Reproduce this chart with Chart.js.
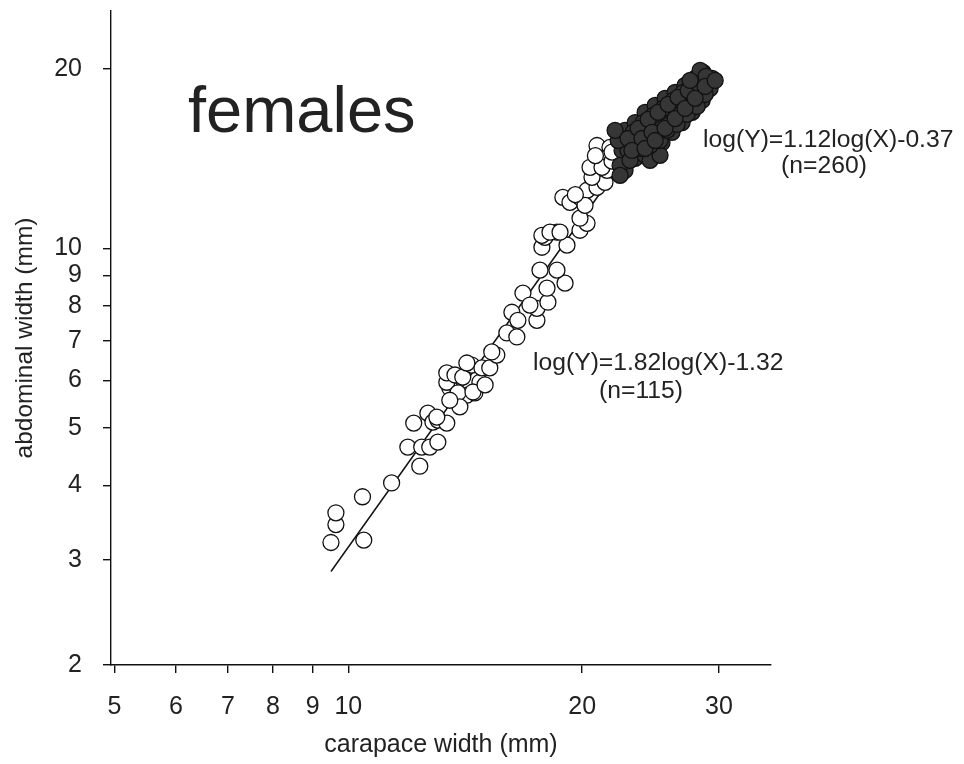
<!DOCTYPE html>
<html>
<head>
<meta charset="utf-8">
<script src="https://cdn.jsdelivr.net/npm/chart.js@4.4.1/dist/chart.umd.min.js"></script>
<style>
  html, body { margin: 0; padding: 0; background: #fff; }
</style>
</head>
<body>
<canvas id="chart" width="964" height="764"></canvas>
<script>
const FONT = '"Liberation Sans", Arial, sans-serif';

// open circles: juvenile females (n=115)
const juvX = [9.50, 9.64, 9.64, 10.43, 10.47, 11.37, 12.36, 11.93, 12.14, 12.43, 12.73, 13.04, 12.66, 12.85, 13.04, 13.39,
  13.51, 13.80, 14.21, 14.55, 14.77, 13.39, 13.00, 13.39, 13.72, 14.04, 13.84, 14.47, 14.42, 14.86, 15.21, 15.53, 15.30,
  16.00, 16.48, 16.24, 16.53, 16.78, 17.49, 17.49, 17.13, 18.07, 18.02, 19.01, 17.65, 18.56, 17.75, 17.91, 18.56, 19.12,
  19.87, 20.29, 17.75, 18.18, 18.73, 19.87, 18.89, 19.29, 19.87, 20.29, 20.90, 21.40, 20.59, 21.53, 20.47, 21.09, 21.28,
  20.90, 21.72, 21.59, 21.21, 20.17, 13.92, 14.21, 20.80, 21.85, 21.85, 19.60, 13.51, 15.00];
const juvY = [3.21, 3.44, 3.60, 3.83, 3.24, 4.04, 4.31, 4.64, 5.09, 4.64, 4.64, 4.73, 5.29, 5.11, 5.15, 5.09,
  5.83, 5.56, 5.67, 5.72, 5.96, 5.96, 5.21, 6.18, 6.13, 6.08, 5.72, 5.74, 6.37, 6.30, 6.30, 6.62, 6.70,
  7.21, 7.10, 7.81, 7.57, 8.41, 7.57, 7.93, 8.03, 8.12, 8.57, 8.74, 9.19, 9.19, 10.04, 10.43, 10.64, 10.12,
  10.72, 11.01, 10.51, 10.64, 10.64, 11.23, 12.17, 11.94, 12.17, 12.51, 12.65, 12.90, 13.15, 13.51, 13.67, 14.15, 14.59,
  14.87, 14.76, 14.20, 13.67, 11.80, 5.42, 6.42, 14.30, 14.00, 14.50, 12.30, 5.56, 5.90];

// filled circles: adult females (n=260)
const adultX = [22.71, 23.40, 24.10, 24.83, 25.57, 26.34, 27.13, 27.95, 28.62,
  22.51, 23.05, 23.75, 24.46, 25.19, 25.95, 26.73, 27.54, 28.37, 29.05,
  22.71, 23.40, 24.10, 24.83, 25.34, 26.10, 26.89, 27.70, 28.54, 29.22,
  22.38, 22.91, 23.61, 24.32, 25.04, 25.80, 26.57, 27.38, 28.20,
  23.26, 23.96, 24.68, 25.42, 26.18, 26.97, 27.79, 24.46, 25.19, 22.25, 22.38, 28.37, 29.40, 22.05,
  22.91, 23.61, 24.32, 25.04, 25.80, 26.57, 27.38, 28.20, 28.87,
  23.05, 23.75, 24.46, 25.19, 25.72, 26.49, 27.30, 28.12, 28.79,
  23.18, 23.88, 24.60, 24.10, 24.83, 25.57, 26.34, 27.13, 27.95, 28.79, 29.66, 27.54];
const adultY = [15.77, 16.25, 16.90, 17.36, 17.84, 18.25, 18.75, 19.27, 19.72,
  14.59, 15.16, 15.65, 16.07, 16.50, 17.03, 17.56, 18.04, 18.53, 19.12,
  13.51, 14.15, 14.32, 14.59, 15.04, 15.65, 16.25, 16.90, 17.70, 18.53,
  13.77, 14.59, 14.87, 15.16, 15.58, 16.07, 16.70, 17.36, 17.91,
  15.65, 16.25, 16.70, 17.16, 17.70, 18.25, 18.75, 14.04, 14.32, 15.16, 13.25, 19.87, 19.27, 15.77,
  15.28, 15.89, 16.45, 16.90, 17.43, 17.91, 18.39, 18.89, 19.42,
  14.04, 14.70, 14.87, 15.16, 15.77, 16.13, 16.77, 17.29, 18.11,
  14.59, 15.28, 15.65, 14.70, 15.16, 15.89, 16.50, 17.16, 17.84, 18.68, 19.12, 19.12];

// fitted lines (end points)
const juvFitX = [9.5, 22.3];
const juvFitY = [2.87, 13.7];
const adultFitX = [22.3, 29.0];
const adultFitY = [13.6, 18.5];

const xTicks = [5, 6, 7, 8, 9, 10, 20, 30];
const yTicks = [2, 3, 4, 5, 6, 7, 8, 9, 10, 20];

const toPoints = (xs, ys) => xs.map((x, i) => ({ x, y: ys[i] }));

const textPlugin = {
  id: 'figureText',
  afterDraw(chart) {
    const ctx = chart.ctx;
    ctx.save();
    ctx.fillStyle = '#222';
    ctx.textBaseline = 'alphabetic';
    ctx.textAlign = 'left';
    ctx.font = `65px ${FONT}`;
    ctx.fillText('females', 188, 132);
    ctx.font = `24.7px ${FONT}`;
    ctx.fillText('log(Y)=1.12log(X)-0.37', 703, 147);
    ctx.fillText('log(Y)=1.82log(X)-1.32', 533, 370);
    ctx.textAlign = 'center';
    ctx.fillText('(n=260)', 824, 173);
    ctx.fillText('(n=115)', 641, 398);
    ctx.restore();
  }
};

const tickFont = { family: FONT, size: 25 };

function noEdgePadding(scale) {
  scale.paddingTop = 0;
  scale.paddingBottom = 0;
  scale.paddingLeft = 0;
  scale.paddingRight = 0;
}

new Chart(document.getElementById('chart').getContext('2d'), {
  type: 'scatter',
  data: {
    datasets: [
      {
        data: toPoints(adultX, adultY),
        backgroundColor: '#363636',
        borderColor: '#111',
        borderWidth: 1.3,
        pointRadius: 8,
        order: 1
      },
      {
        data: toPoints(juvX, juvY),
        backgroundColor: '#fff',
        borderColor: '#111',
        borderWidth: 1.3,
        pointRadius: 8,
        order: 2
      },
      {
        type: 'line',
        data: toPoints(juvFitX, juvFitY),
        borderColor: '#111',
        borderWidth: 1.5,
        pointRadius: 0,
        order: 3
      },
      {
        type: 'line',
        data: toPoints(adultFitX, adultFitY),
        borderColor: '#111',
        borderWidth: 1.5,
        pointRadius: 0,
        order: 3
      }
    ]
  },
  options: {
    responsive: false,
    animation: false,
    layout: { padding: { left: 0, top: 11, right: 193, bottom: 0 } },
    plugins: { legend: { display: false }, tooltip: { enabled: false } },
    scales: {
      x: {
        type: 'logarithmic',
        min: 4.95,
        max: 35,
        afterBuildTicks: (scale) => { scale.ticks = xTicks.map(v => ({ value: v })); },
        afterFit: (scale) => { scale.height = 99; noEdgePadding(scale); },
        border: { display: true, color: '#111', width: 1.4 },
        grid: { display: true, drawOnChartArea: false, drawTicks: true, tickLength: 8, color: '#111', lineWidth: 1.4 },
        ticks: { autoSkip: false, maxRotation: 0, padding: 19, color: '#222', font: tickFont, callback: (v) => String(v) },
        title: { display: true, text: 'carapace width (mm)', color: '#222', font: { family: FONT, size: 25 }, padding: { top: 0, bottom: 4 } }
      },
      y: {
        type: 'logarithmic',
        min: 2,
        max: 25,
        afterBuildTicks: (scale) => { scale.ticks = yTicks.map(v => ({ value: v })); },
        afterFit: (scale) => { scale.width = 111; noEdgePadding(scale); },
        border: { display: true, color: '#111', width: 1.4 },
        grid: { display: true, drawOnChartArea: false, drawTicks: true, tickLength: 8, color: '#111', lineWidth: 1.4 },
        ticks: { autoSkip: false, padding: 21, color: '#222', font: tickFont, callback: (v) => String(v) },
        title: { display: true, text: 'abdominal width (mm)', color: '#222', font: { family: FONT, size: 24.5 }, padding: { top: 11, bottom: 0 } }
      }
    }
  },
  plugins: [textPlugin]
});
</script>
</body>
</html>
